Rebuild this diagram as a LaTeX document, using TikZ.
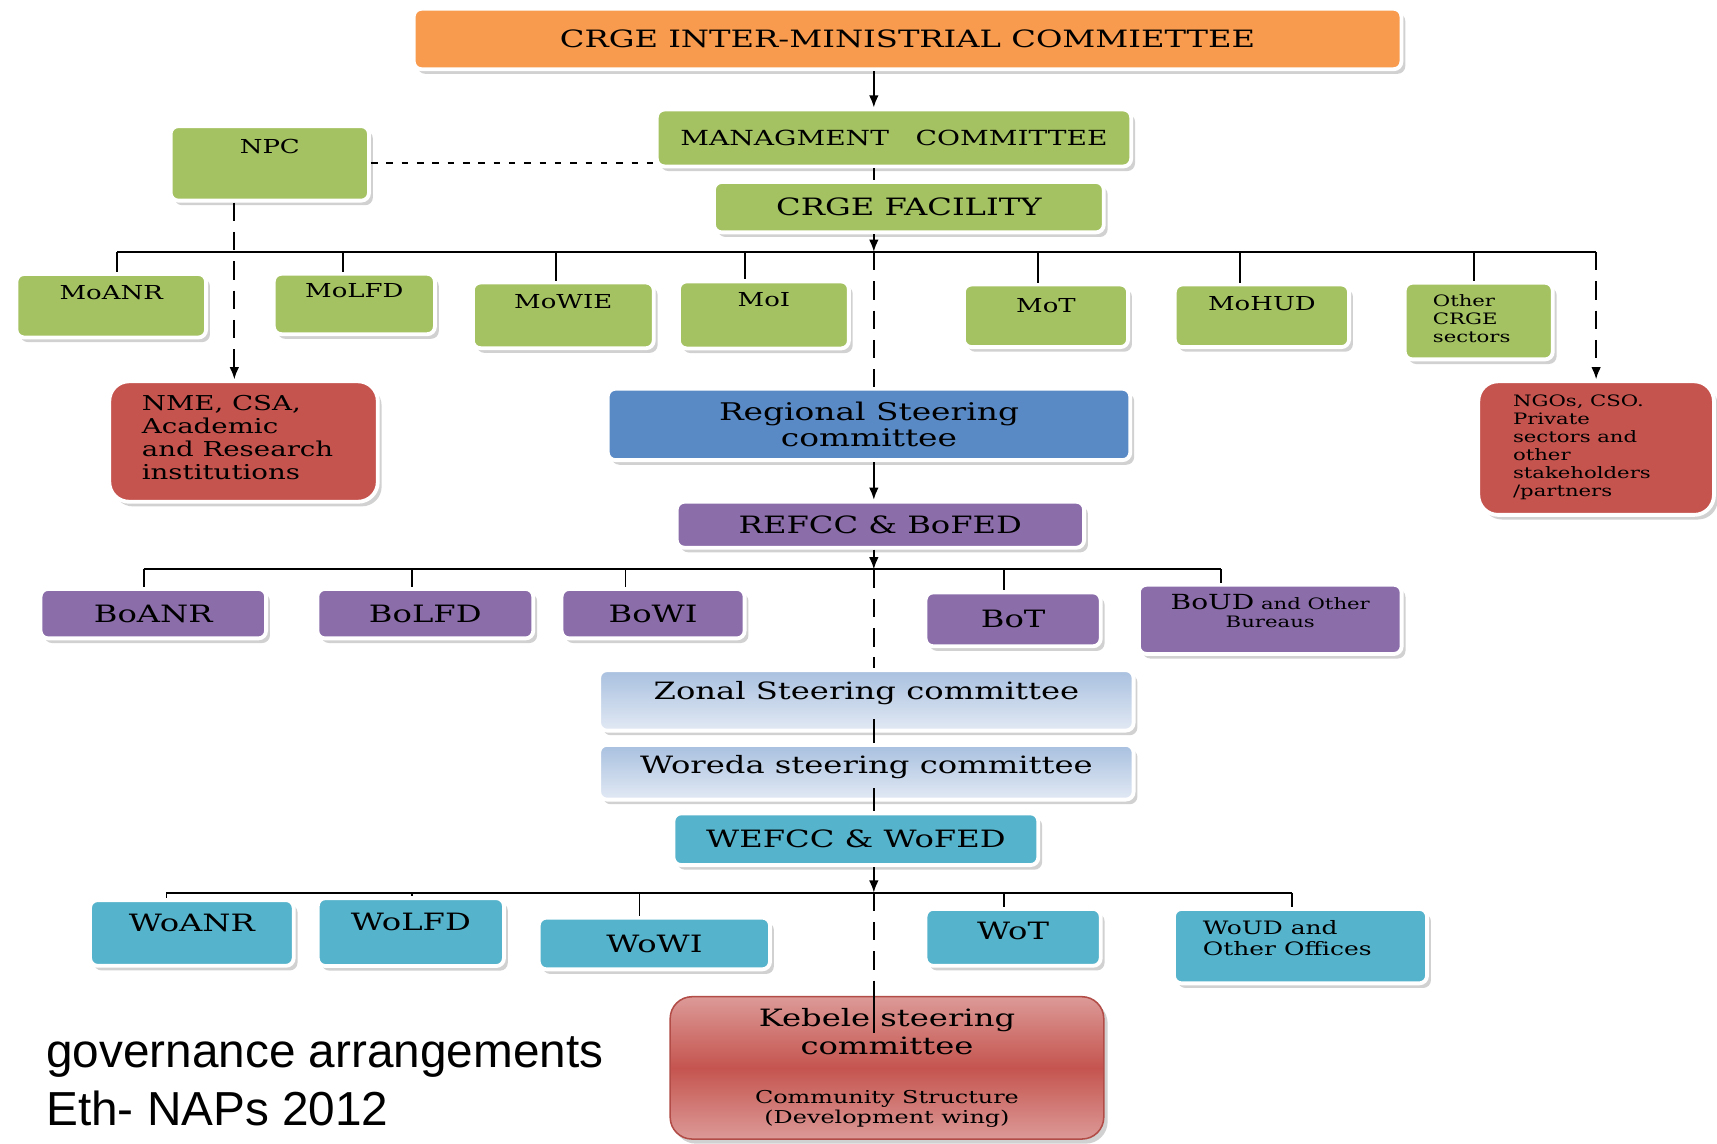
\documentclass[tikz,border=0pt]{standalone}
\usepackage{fontspec}
\setmainfont{DejaVu Serif}[FakeStretch=1.35]
\newfontfamily\capfont{Liberation Sans}
\usepackage{xcolor}
\usepackage{tikz}
\usetikzlibrary{positioning,shadows,arrows.meta,calc}

\definecolor{crgeorange}{HTML}{F89B4E}
\definecolor{crgegreen}{HTML}{A4C262}
\definecolor{crgered}{HTML}{C5544F}
\definecolor{crgepink}{HTML}{DC9A97}
\definecolor{crgeblue}{HTML}{5A8AC6}
\definecolor{crgepurple}{HTML}{8B6DAA}
\definecolor{crgeaqua}{HTML}{55B3CB}
\definecolor{paleblueA}{HTML}{A8C0DF}
\definecolor{paleblueB}{HTML}{E2E9F4}

\newcommand{\szA}{\fontsize{15.5}{17}\selectfont}
\newcommand{\szB}{\fontsize{13.5}{15}\selectfont}
\newcommand{\szC}{\fontsize{12.5}{14}\selectfont}
\newcommand{\szD}{\fontsize{10.2}{11.7}\selectfont}
\newcommand{\szE}{\fontsize{11.5}{12.5}\selectfont}

\tikzset{
  box/.style={draw=white, line width=2.5pt, rounded corners=5pt, inner sep=2pt,
    drop shadow={shadow xshift=2.5pt, shadow yshift=-3pt, fill=black!30, opacity=0.6}},
  obox/.style={box, fill=crgeorange},
  gbox/.style={box, fill=crgegreen},
  rbox/.style={box, fill=crgered, rounded corners=0.45cm},
  bbox/.style={box, fill=crgeblue},
  pbox/.style={box, fill=crgepurple},
  abox/.style={box, fill=crgeaqua},
  sbox/.style={box, top color=paleblueA, bottom color=paleblueB},
  toplbl/.style={anchor=north, inner sep=0pt, yshift=-#1, align=center},
  leftlbl/.style={anchor=north west, inner sep=0pt, align=left},
  conn/.style={line width=1.2pt},
  arr/.style={conn, -{Latex[length=0.28cm,width=0.22cm]}},
  dashline/.style={conn, dash pattern=on 0.42cm off 0.25cm},
  dasharr/.style={dashline, -{Latex[length=0.28cm,width=0.22cm]}},
  shortdash/.style={conn, dash pattern=on 0.15cm off 0.2cm},
}

\begin{document}
\begin{tikzpicture}
\useasboundingbox (0,0) rectangle (39.2,-26.1);

% National level
\node[obox, minimum width=22.55cm, minimum height=1.38cm, font=\szA] (imc) at (20.72,-0.89) {CRGE INTER-MINISTRIAL COMMIETTEE};
\node[gbox, minimum width=10.83cm, minimum height=1.30cm, font=\szB] (mgmt) at (20.41,-3.15) {MANAGMENT\ \ \ COMMITTEE};
\node[gbox, minimum width=4.53cm, minimum height=1.70cm, label={[toplbl=0.33cm, font=\szC]north:NPC}] (npc) at (6.16,-3.73) {};
\node[gbox, minimum width=8.90cm, minimum height=1.15cm, font=\szA] (facility) at (20.75,-4.73) {CRGE FACILITY};

% Ministries
\node[gbox, minimum width=4.33cm, minimum height=1.45cm, label={[toplbl=0.3cm, font=\szC]north:MoANR}] (moanr) at (2.54,-6.98) {};
\node[gbox, minimum width=3.68cm, minimum height=1.38cm, label={[toplbl=0.25cm, font=\szC]north:MoLFD}] (molfd) at (8.09,-6.94) {};
\node[gbox, minimum width=4.13cm, minimum height=1.50cm, label={[toplbl=0.3cm, font=\szC]north:MoWIE}] (mowie) at (12.86,-7.20) {};
\node[gbox, minimum width=3.88cm, minimum height=1.53cm, label={[toplbl=0.3cm, font=\szC]north:MoI}] (moi) at (17.44,-7.19) {};
\node[gbox, minimum width=3.75cm, minimum height=1.43cm, label={[toplbl=0.35cm, font=\szC]north:MoT}] (mot) at (23.88,-7.21) {};
\node[gbox, minimum width=3.98cm, minimum height=1.43cm, label={[toplbl=0.3cm, font=\szC]north:MoHUD}] (mohud) at (28.81,-7.21) {};
\node[gbox, minimum width=3.38cm, minimum height=1.75cm, label={[leftlbl, xshift=0.68cm, yshift=-0.3cm, font=\szD]north west:{Other\\CRGE\\sectors}}] (othercrge) at (33.76,-7.33) {};

% Non-government partners
\node[rbox, minimum width=6.13cm, minimum height=2.75cm, label={[leftlbl, xshift=0.78cm, yshift=-0.35cm, font=\fontsize{13.3}{14.9}\selectfont]north west:{NME, CSA,\\Academic\\and Research\\institutions}}] (nme) at (5.56,-10.08) {};
\node[rbox, minimum width=5.38cm, minimum height=3.05cm, label={[leftlbl, xshift=0.83cm, yshift=-0.35cm, font=\szD]north west:{NGOs, CSO.\\Private\\sectors and\\other\\stakeholders\\/partners}}] (ngos) at (36.44,-10.23) {};

% Regional level
\node[bbox, minimum width=11.93cm, minimum height=1.63cm, align=center, font=\fontsize{15.8}{16.4}\selectfont] (regional) at (19.84,-9.69) {Regional Steering\\committee};
\node[pbox, minimum width=9.30cm, minimum height=1.05cm, font=\szA] (refcc) at (20.10,-11.98) {REFCC \& BoFED};
\node[pbox, minimum width=5.15cm, minimum height=1.13cm, font=\szA] (boanr) at (3.50,-14.01) {BoANR};
\node[pbox, minimum width=4.93cm, minimum height=1.13cm, font=\szA] (bolfd) at (9.71,-14.01) {BoLFD};
\node[pbox, minimum width=4.18cm, minimum height=1.13cm, font=\szA] (bowi) at (14.91,-14.01) {BoWI};
\node[pbox, minimum width=4.00cm, minimum height=1.23cm, font=\szA] (bot) at (23.13,-14.14) {BoT};
\node[pbox, minimum width=6.00cm, minimum height=1.58cm, label={[toplbl=0.25cm, font=\szD]north:{{\szB BoUD} and Other\\Bureaus}}] (boud) at (29.00,-14.14) {};

% Zonal and woreda level
\node[sbox, minimum width=12.20cm, minimum height=1.38cm, label={[toplbl=0.3cm, font=\szA]north:Zonal Steering committee}] (zonal) at (19.78,-15.99) {};
\node[sbox, minimum width=12.20cm, minimum height=1.25cm, label={[toplbl=0.28cm, font=\szA]north:Woreda steering committee}] (woreda) at (19.78,-17.63) {};
\node[abox, minimum width=8.33cm, minimum height=1.18cm, font=\szA] (wefcc) at (19.54,-19.16) {WEFCC \& WoFED};
\node[abox, minimum width=4.65cm, minimum height=1.50cm, label={[toplbl=0.35cm, font=\szA]north:WoANR}] (woanr) at (4.38,-21.30) {};
\node[abox, minimum width=4.25cm, minimum height=1.55cm, label={[toplbl=0.37cm, font=\szA]north:WoLFD}] (wolfd) at (9.38,-21.28) {};
\node[abox, minimum width=5.28cm, minimum height=1.18cm, font=\szA] (wowi) at (14.94,-21.54) {WoWI};
\node[abox, minimum width=4.00cm, minimum height=1.30cm, label={[toplbl=0.33cm, font=\szA]north:WoT}] (wot) at (23.13,-21.40) {};
\node[abox, minimum width=5.78cm, minimum height=1.70cm, label={[leftlbl, xshift=0.7cm, yshift=-0.3cm, font=\fontsize{12}{14}\selectfont]north west:{WoUD and\\Other Offices}}] (woud) at (29.69,-21.60) {};

% Kebele level
\node[box, draw=crgered!90!black, line width=1pt, rounded corners=0.5cm, top color=crgepink, bottom color=crgepink, middle color=crgered, minimum width=9.90cm, minimum height=3.25cm, align=center, font=\fontsize{15.5}{17.8}\selectfont] (kebele) at (20.25,-24.38) {Kebele steering\\committee\\[0.5cm]{\szE Community Structure}\\[-0.17cm]{\szE (Development wing)}};

% Caption
\node[anchor=base west, inner sep=0pt, font=\capfont\fontsize{31}{36}\selectfont] (cap1) at (1.05,-24.38) {governance arrangements};
\node[anchor=base west, inner sep=0pt, font=\capfont\fontsize{31}{36}\selectfont] (cap2) at (1.05,-25.70) {Eth- NAPs 2012};

% Spine and buses
\coordinate (spine) at (19.95,0);
\coordinate (bus1) at (19.95,-5.75);
\coordinate (bus2) at (19.95,-13.0);
\coordinate (bus3) at (19.95,-20.38);
\coordinate (bus1l) at (2.68,-5.75);
\coordinate (bus2l) at (3.28,-13.0);
\coordinate (bus2r) at (27.88,-13.0);
\coordinate (bus3l) at (3.80,-20.38);
\coordinate (bus3r) at (29.50,-20.38);
\coordinate (npcdrop) at (5.35,0);

\draw[arr] (spine |- imc.south) -- (spine |- mgmt.north);
\draw[dashline] (spine |- mgmt.south) -- (spine |- facility.north);
\draw[shortdash] (npc.east) -- (npc.east -| mgmt.west);
\draw[arr] (spine |- facility.south) -- (bus1);

% Ministries bus
\draw[conn] (bus1l) -- (ngos.north |- bus1);
\foreach \x/\n in {2.68/moanr, 7.83/molfd, 12.70/mowie, 17.00/moi, 23.70/mot, 28.30/mohud, 33.65/othercrge}
  \draw[conn] (\x,-5.75) coordinate (t) -- (t |- \n.north);
\draw[dasharr] (ngos.north |- bus1) -- (ngos.north);
\draw[dasharr] (npcdrop |- npc.south) -- (npcdrop |- nme.north);

% Regional
\draw[dashline] (bus1) -- (spine |- regional.north);
\draw[arr] (spine |- regional.south) -- (spine |- refcc.north);
\draw[arr] (spine |- refcc.south) -- (bus2);
\draw[conn] (bus2l) -- (bus2r);
\foreach \x/\n in {3.28/boanr, 9.40/bolfd, 14.28/bowi, 22.93/bot, 27.88/boud}
  \draw[conn] (\x,-13.0) coordinate (t) -- (t |- \n.north);

% Zonal, woreda
\draw[dashline] (bus2) -- (spine |- zonal.north);
\draw[conn] ($(spine |- zonal.south)+(0,0.3)$) -- (spine |- woreda.north);
\draw[conn] ($(spine |- woreda.south)+(0,0.3)$) -- (spine |- wefcc.north);
\draw[arr] (spine |- wefcc.south) -- (bus3);
\draw[conn] (bus3l) -- (bus3r);
\foreach \x/\n in {3.80/woanr, 9.40/wolfd, 14.60/wowi, 22.93/wot, 29.50/woud}
  \draw[conn] (\x,-20.38) coordinate (t) -- (t |- \n.north);

% Kebele
\draw[dashline] (bus3) -- (spine |- kebele.north);
\draw[conn] (spine |- kebele.north) -- ++(0,-0.85);
\end{tikzpicture}
\end{document}
